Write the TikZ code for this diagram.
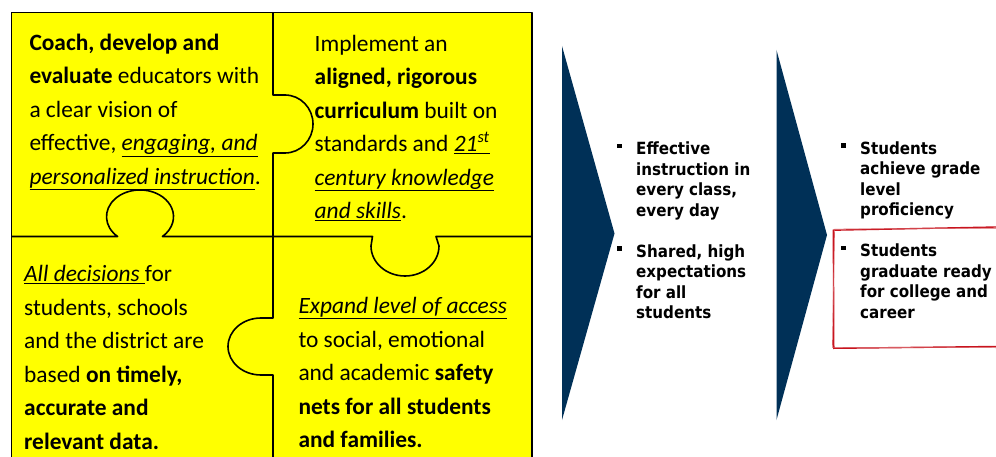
\documentclass[tikz,border=0pt]{standalone}
\usepackage{fontspec}
\setmainfont{Carlito}
\newfontfamily\goalfont{DejaVu Sans Condensed}
\definecolor{navy}{RGB}{0,48,87}
\definecolor{piece}{RGB}{255,255,0}
\definecolor{marker}{RGB}{200,20,30}
\tikzset{
  edge/.style={line width=1.6pt, line join=round},
  piecetext/.style={anchor=base west, inner sep=0pt, align=left,
    font=\fontsize{23.4}{33.5}\selectfont},
  goaltext/.style={anchor=base west, inner sep=0pt, align=left,
    font=\goalfont\bfseries\fontsize{16.8}{20.5}\selectfont},
  bulletbox/.style={fill=black, inner sep=0pt, minimum size=4.5pt},
  chevron/.style={fill=navy}
}
\begin{document}
\begin{tikzpicture}[x=1pt, y=1pt]
  \useasboundingbox (0,0) rectangle (996,456);
  \clip (0,0) rectangle (996,456);
  % puzzle
  \fill[piece] (11.5,-5) rectangle (532,443.5);
  \draw[edge] (11.5,-5) -- (11.5,443.5) -- (532,443.5) -- (532,-5);
  \draw[edge] (273,443.5) -- (273,361) -- (285,361)
    arc[start angle=90, end angle=-90, x radius=28, y radius=29]
    -- (273,303) -- (273,138) -- (261,138)
    arc[start angle=90, end angle=270, x radius=33, y radius=28.5]
    -- (273,81) -- (273,-5);
  \draw[edge] (11.5,219.5) -- (117.6,219.5)
    arc[start angle=228, end angle=-48, x radius=33.5, y radius=26.7]
    -- (372.5,219.5) -- (371,210)
    arc[start angle=180, end angle=360, x radius=34, y radius=30]
    -- (436,219.5) -- (532,219.5);

  % base = last line
  \node[piecetext] (coach) at (29.3,272) {\textbf{Coach, develop and}\\
    \textbf{evaluate} educators with\\ a clear vision of\\
    effective, \underline{\textit{engaging, and}}\\
    \underline{\textit{personalized instruction}}.};
  \node[piecetext] (curric) at (314.5,237.5) {Implement an\\
    \textbf{aligned, rigorous}\\ \textbf{curriculum} built on\\
    standards and \underline{\textit{21\textsuperscript{st}}}\\
    \underline{\textit{century knowledge}}\\ \underline{\textit{and skills}}.};
  \node[piecetext] (data) at (24,6.7) {\underline{\textit{All decisions\ }}for\\
    students, schools\\ and the district are\\ based \textbf{on timely,}\\
    \textbf{accurate and}\\ \textbf{relevant data.}};
  \node[piecetext] (access) at (298.3,8.5) {\underline{\textit{Expand level of access}}\\
    to social, emotional\\ and academic \textbf{safety}\\
    \textbf{nets for all students}\\ \textbf{and families.}};

  % arrows
  \fill[chevron] (562,410) -- (614.5,222.5) -- (562,36) -- cycle;
  \fill[chevron] (776.5,406) -- (827,221) -- (776.5,36) -- cycle;

  % outcomes
  \node[goaltext] (instr) at (636,240) {Effective\\ instruction in\\ every class,\\ every day};
  \node[goaltext] (expect) at (636,137.5) {Shared, high\\ expectations\\ for all\\ students};
  \node[goaltext] (prof) at (860,240.5) {Students\\ achieve grade\\ level\\ proficiency};
  \node[goaltext] (ready) at (860,138) {Students\\ graduate ready\\ for college and\\ career};
  \foreach \item in {instr, expect, prof, ready}
    \node[bulletbox, xshift=-16.5pt, yshift=-4.5pt] (\item dot) at (\item.north west) {};

  % highlight
  \draw[marker, line width=1.4pt] (996,229) -- (833.3,225.8) -- (833.8,107.7) -- (996,109.5);
  \draw[marker!70, line width=0.6pt] (996,227.8) -- (834.6,226.9) -- (832.4,108.6) -- (996,108.3);
\end{tikzpicture}
\end{document}
